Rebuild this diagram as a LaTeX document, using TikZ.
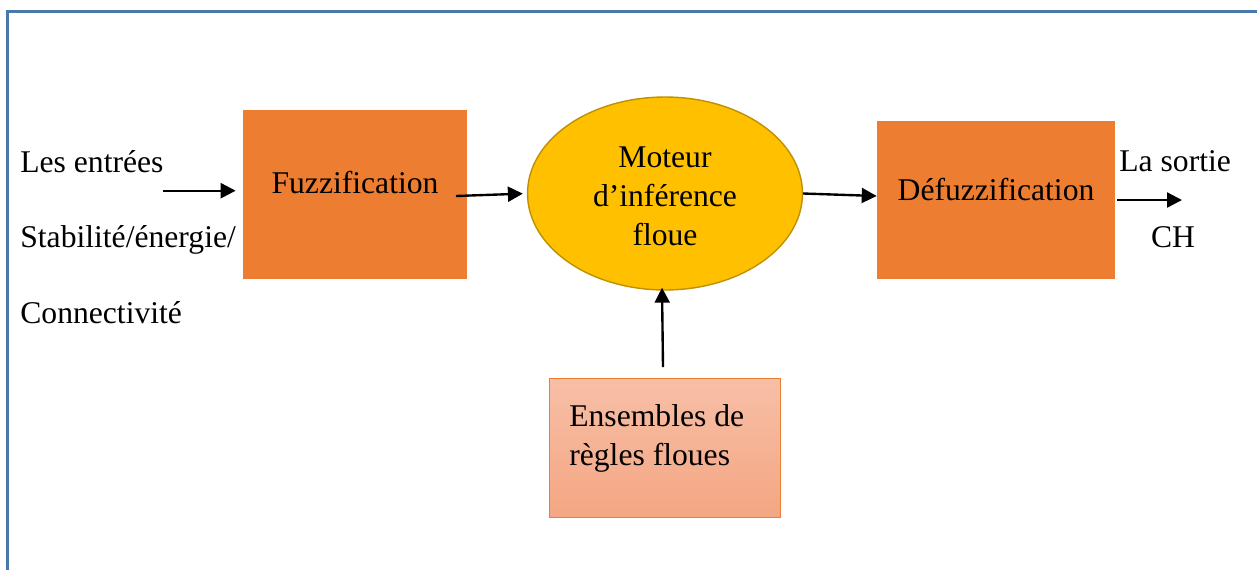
\documentclass[tikz,border=0pt]{standalone}
\usepackage{fontspec}
\setmainfont{Liberation Serif}
\usetikzlibrary{shapes.geometric,arrows.meta,calc}
\definecolor{frameblue}{RGB}{72,121,170}
\definecolor{orangebox}{RGB}{237,125,49}
\definecolor{goldfill}{RGB}{255,192,0}
\definecolor{golddraw}{RGB}{191,144,0}
\definecolor{rosetop}{RGB}{247,191,167}
\definecolor{rosebottom}{RGB}{244,166,130}

\begin{document}
\begin{tikzpicture}[x=0.02cm, y=-0.02cm, font=\fontsize{18}{22.2}\selectfont]
\tikzstyle{process} = [rectangle, fill=orangebox, inner sep=0pt]
\tikzstyle{arrow} = [line width=1.35pt, -{Triangle[length=8.5pt, width=8.5pt]}]
\tikzstyle{txt} = [inner sep=0pt]

\useasboundingbox (0,0) rectangle (1257,569);
\clip (0,0) rectangle (1257,569);
\draw[frameblue, line width=1.7pt] (7.5,11.5) rectangle (1290,600);

% blocks
\node (Fuzzification) [process, minimum width=4.48cm, minimum height=3.38cm] at (355,194.5) {};
\node (Moteur) [ellipse, fill=goldfill, draw=golddraw, line width=0.8pt, minimum width=5.5cm, minimum height=3.86cm, inner sep=0pt] at (665,193.5) {};
\node (Defuzzification) [process, minimum width=4.76cm, minimum height=3.16cm] at (996,200) {};
\node (Regles) [rectangle, draw=orangebox, line width=0.5pt, top color=rosetop, bottom color=rosebottom, minimum width=4.62cm, minimum height=2.78cm, inner sep=0pt] at (664.5,447.5) {};

% texts (base = last line)
\node (FuzzText) [txt, anchor=base] at (355,193) {Fuzzification};
\node (MoteurText) [txt, anchor=base, align=center] at (665,245) {Moteur\\d’inférence\\floue};
\node (DefuzzText) [txt, anchor=base] at (996,200) {Défuzzification};
\node (ReglesText) [txt, anchor=base west, align=left] at (569,465) {Ensembles de\\règles floues};
\node (Entrees) [txt, anchor=base west] at (20,172) {Les entrées};
\node (Stabilite) [txt, anchor=base west] at (20,247) {Stabilité/énergie/};
\node (Connect) [txt, anchor=base west] at (20,323) {Connectivité};
\node (Sortie) [txt, anchor=base west] at (1119,171) {La sortie};
\node (CH) [txt, anchor=base] at (1173,247) {CH};

% connectors
\coordinate (InStart) at (163,190.7);
\coordinate (FuzzOut) at (456,196);
\coordinate (OutEnd) at (1182,200);
\coordinate (ReglesOut) at (663,367);

\draw [arrow, shorten >=0.14cm] (InStart) -- (InStart -| Fuzzification.west);
\draw [arrow, shorten >=0.08cm] (FuzzOut) -- (Moteur.west);
\draw [arrow] (Moteur.east) -- ($(Defuzzification.west)+(0,-4)$);
\draw [arrow, shorten <=0.04cm] (Defuzzification.east) -- (OutEnd);
\draw [arrow] (ReglesOut) -- ($(Moteur.south)+(-3,-3)$);
\end{tikzpicture}
\end{document}
